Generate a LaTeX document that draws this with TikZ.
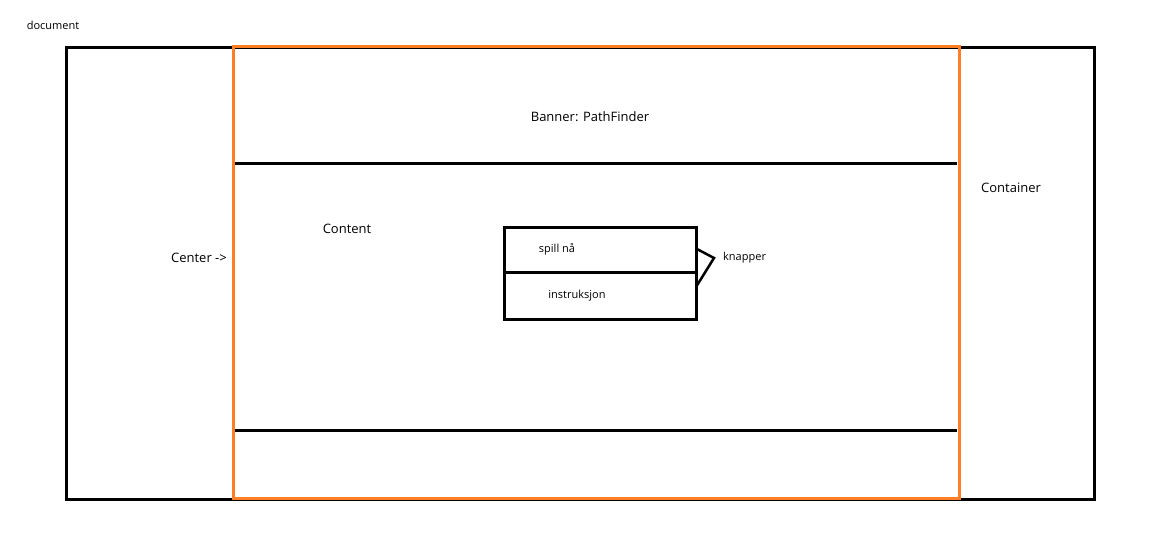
\documentclass[tikz,border=0pt]{standalone}
\usepackage{fontspec}
\setmainfont{Open Sans}
\usetikzlibrary{positioning}
\definecolor{paintorange}{RGB}{255,127,39}
\begin{document}
\begin{tikzpicture}[x=1pt,y=-1pt]
  % some styles
  \tikzset{
    frame/.style={draw=black,line width=3pt},
    centerframe/.style={draw=paintorange,line width=3pt},
    knapp/.style={
      rectangle,
      draw=black,
      line width=3pt,
      minimum width=192pt,
      inner sep=0pt,
      outer sep=0pt
    },
    tekst/.style={inner sep=0pt,font=\fontsize{13}{15}\selectfont},
    smal/.style={inner sep=0pt,font=\fontsize{11}{13}\selectfont}
  }
\useasboundingbox (0,0) rectangle (1160,538);

% container and center
\draw[frame] (66,47) rectangle (1094,499);
\draw[frame] (235,163) -- (957,163);
\draw[frame] (235,430) -- (957,430);
\draw[centerframe] (233,46) rectangle (959,498);

\node[smal] (document) at (53,25) {document};
\node[tekst] (banner) at (590,117) {Banner: PathFinder};
\node[tekst] (container) at (1011,188) {Container};
\node[tekst] (content) at (347,229) {Content};
\node[tekst] (center) at (199,258) {Center ->};

% knapper
\node[knapp,minimum height=45pt] (spill) at (600,249.5) {};
\node[knapp,minimum height=47pt,below=0pt of spill] (instr) {};
\node[smal] (spilltxt) at ([xshift=-43pt]spill.center) {spill nå};
\node[smal] (instrtxt) at ([xshift=-23pt]instr.center) {instruksjon};

\coordinate (tip) at (714,258);
\draw[line width=2.5pt] ([yshift=1pt]spill.east) -- (tip) -- ([yshift=8.5pt]instr.east);
\node[smal,right=9pt of tip] (knapper) {knapper};
\end{tikzpicture}
\end{document}
